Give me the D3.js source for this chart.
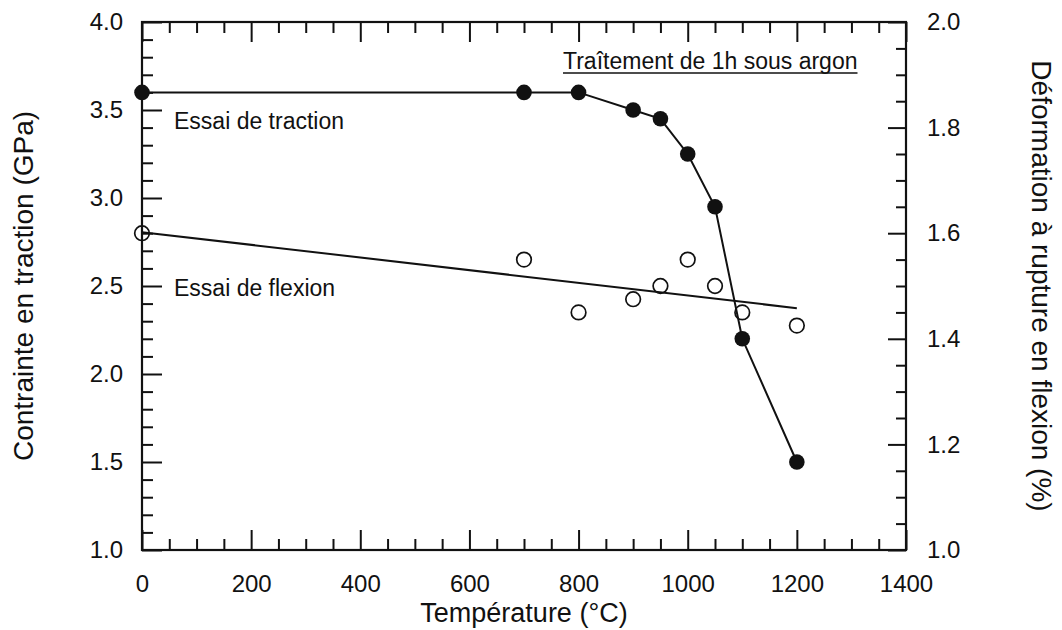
<!DOCTYPE html>
<html>
<head>
<meta charset="utf-8">
<script src="https://cdn.jsdelivr.net/npm/d3@7"></script>
<style>
  html, body { margin: 0; padding: 0; background: #fff; }
  svg { display: block; }
  text { font-family: "Liberation Sans", Arial, Helvetica, sans-serif; fill: #111; }
</style>
</head>
<body>
<svg id="chart" width="1062" height="630"></svg>
<script>
// ---- Data ----
const tractionTemps = [0, 700, 800, 900, 950, 1000, 1050, 1100, 1200];
const tractionGPa   = [3.6, 3.6, 3.6, 3.5, 3.45, 3.25, 2.95, 2.2, 1.5];

const flexionTemps  = [0, 700, 800, 900, 950, 1000, 1050, 1100, 1200];
const flexionPct    = [1.6, 1.55, 1.45, 1.475, 1.5, 1.55, 1.5, 1.45, 1.425];

const flexionFitTemps = [0, 1200];
const flexionFitPct   = [1.602, 1.458];

const xTicks      = [0, 200, 400, 600, 800, 1000, 1200, 1400];
const xMinorTicks = d3.range(0, 1401, 50);
const yLeftTicks      = [1.0, 1.5, 2.0, 2.5, 3.0, 3.5, 4.0];
const yLeftMinorTicks = d3.range(10, 41, 1).map(v => v / 10);
const yRightTicks      = [1.0, 1.2, 1.4, 1.6, 1.8, 2.0];
const yRightMinorTicks = d3.range(20, 41, 1).map(v => v / 20);

const xTitle = "Température (°C)";
const yLeftTitle = "Contrainte en traction (GPa)";
const yRightTitle = "Déformation à rupture en flexion (%)";
const labelTraction = "Essai de traction";
const labelFlexion = "Essai de flexion";
const annotation = "Traîtement de 1h sous argon";

// ---- Layout ----
const svg = d3.select("#chart");
const L = 142, R = 906, T = 22, B = 550;
const x = d3.scaleLinear().domain([0, 1400]).range([L, R]);
const yL = d3.scaleLinear().domain([1, 4]).range([B, T]);
const yR = d3.scaleLinear().domain([1, 2]).range([B, T]);
const ink = "#111";

function styleAxis(g) {
  g.select(".domain").remove();
  g.selectAll(".tick line").attr("stroke", ink).attr("stroke-width", 2);
}

// bottom axis (majors with labels)
const gxB = svg.append("g").attr("transform", `translate(0,${B})`)
  .call(d3.axisBottom(x).tickValues(xTicks).tickSizeInner(-20).tickSizeOuter(0).tickPadding(25).tickFormat(d3.format("d")));
gxB.call(styleAxis);
gxB.selectAll("text").attr("font-size", 24).attr("fill", ink)
  .attr("font-family", "'Liberation Sans', Arial, sans-serif");
svg.append("g").attr("transform", `translate(0,${B})`)
  .call(d3.axisBottom(x).tickValues(xMinorTicks.filter(v => !xTicks.includes(v))).tickSize(-11).tickFormat(""))
  .call(styleAxis);

// top axis (inward ticks, no labels)
svg.append("g").attr("transform", `translate(0,${T})`)
  .call(d3.axisTop(x).tickValues(xTicks).tickSize(-20).tickFormat(""))
  .call(styleAxis);
svg.append("g").attr("transform", `translate(0,${T})`)
  .call(d3.axisTop(x).tickValues(xMinorTicks.filter(v => !xTicks.includes(v))).tickSize(-11).tickFormat(""))
  .call(styleAxis);

// left axis
const gyL = svg.append("g").attr("transform", `translate(${L},0)`)
  .call(d3.axisLeft(yL).tickValues(yLeftTicks).tickSizeInner(-20).tickSizeOuter(0).tickPadding(19).tickFormat(d3.format(".1f")));
gyL.call(styleAxis);
gyL.selectAll("text").attr("font-size", 24).attr("fill", ink)
  .attr("font-family", "'Liberation Sans', Arial, sans-serif");
svg.append("g").attr("transform", `translate(${L},0)`)
  .call(d3.axisLeft(yL).tickValues(yLeftMinorTicks.filter(v => !yLeftTicks.some(t => Math.abs(t - v) < 1e-9))).tickSize(-11).tickFormat(""))
  .call(styleAxis);

// right axis
const gyR = svg.append("g").attr("transform", `translate(${R},0)`)
  .call(d3.axisRight(yR).tickValues(yRightTicks).tickSizeInner(-18).tickSizeOuter(0).tickPadding(21).tickFormat(d3.format(".1f")));
gyR.call(styleAxis);
gyR.selectAll("text").attr("font-size", 24).attr("fill", ink)
  .attr("font-family", "'Liberation Sans', Arial, sans-serif");
svg.append("g").attr("transform", `translate(${R},0)`)
  .call(d3.axisRight(yR).tickValues(yRightMinorTicks.filter(v => !yRightTicks.some(t => Math.abs(t - v) < 1e-9))).tickSize(-10).tickFormat(""))
  .call(styleAxis);

// frame
svg.append("rect").attr("x", L).attr("y", T).attr("width", R - L).attr("height", B - T)
  .attr("fill", "none").attr("stroke", ink).attr("stroke-width", 2.2);

// ---- Series ----
const tractionData = tractionTemps.map((t, i) => ({ t, v: tractionGPa[i] }));
const flexionData = flexionTemps.map((t, i) => ({ t, v: flexionPct[i] }));
const fitData = flexionFitTemps.map((t, i) => ({ t, v: flexionFitPct[i] }));

const lineL = d3.line().x(d => x(d.t)).y(d => yL(d.v));
const lineR = d3.line().x(d => x(d.t)).y(d => yR(d.v));

svg.append("path").datum(fitData).attr("d", lineR)
  .attr("fill", "none").attr("stroke", ink).attr("stroke-width", 2);
svg.append("path").datum(tractionData).attr("d", lineL)
  .attr("fill", "none").attr("stroke", ink).attr("stroke-width", 2);

svg.append("g").selectAll("circle").data(flexionData).join("circle")
  .attr("cx", d => x(d.t)).attr("cy", d => yR(d.v)).attr("r", 7.3)
  .attr("fill", "none").attr("stroke", ink).attr("stroke-width", 1.7);
svg.append("g").selectAll("circle").data(tractionData).join("circle")
  .attr("cx", d => x(d.t)).attr("cy", d => yL(d.v)).attr("r", 7.8)
  .attr("fill", ink);

// ---- Texts ----
svg.append("text").attr("x", 174).attr("y", 129).attr("font-size", 23).text(labelTraction);
svg.append("text").attr("x", 174).attr("y", 296).attr("font-size", 23).text(labelFlexion);
const ann = svg.append("text").attr("x", 563).attr("y", 69).attr("font-size", 23).text(annotation);
const annW = ann.node().getComputedTextLength();
svg.append("line").attr("x1", 563).attr("x2", 563 + annW).attr("y1", 73).attr("y2", 73)
  .attr("stroke", ink).attr("stroke-width", 1.6);

svg.append("text").attr("x", (L + R) / 2).attr("y", 622).attr("text-anchor", "middle")
  .attr("font-size", 27).text(xTitle);
svg.append("text").attr("transform", `translate(33,${(T + B) / 2}) rotate(-90)`)
  .attr("text-anchor", "middle").attr("font-size", 28).text(yLeftTitle);
svg.append("text").attr("transform", `translate(1032,${(T + B) / 2}) rotate(90)`)
  .attr("text-anchor", "middle").attr("font-size", 28).text(yRightTitle);
</script>
</body>
</html>
